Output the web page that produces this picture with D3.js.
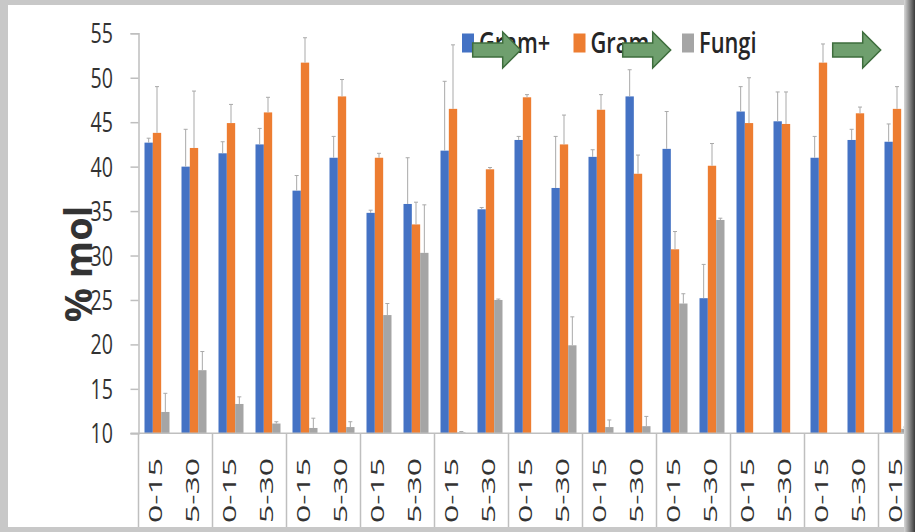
<!DOCTYPE html>
<html>
<head>
<meta charset="utf-8">
<script src="https://cdn.jsdelivr.net/npm/d3@7"></script>
<style>
  html, body { margin: 0; padding: 0; background: #ffffff; }
  svg { display: block; }
</style>
</head>
<body>
<svg id="chart" width="915" height="532"></svg>
<script>
// Soil depth classes, eleven sites with two depths each (only 21 columns fit the slide)
const categories = [
  "0-15", "15-30", "0-15", "15-30", "0-15", "15-30", "0-15", "15-30",
  "0-15", "15-30", "0-15", "15-30", "0-15", "15-30", "0-15", "15-30",
  "0-15", "15-30", "0-15", "15-30", "0-15"
];
const seriesNames = ["Gram+", "Gram-", "Fungi"];

// % mol of PLFA marker groups
const gramPos = [42.7, 40.0, 41.5, 42.5, 37.3, 41.0, 34.8, 35.8, 41.8, 35.2, 43.0,
                 37.6, 41.1, 47.9, 42.0, 25.2, 46.2, 45.1, 41.0, 43.0, 42.8];
const gramNeg = [43.8, 42.1, 44.9, 46.1, 51.7, 47.9, 41.0, 33.5, 46.5, 39.7, 47.8,
                 42.5, 46.4, 39.2, 30.7, 40.1, 44.9, 44.8, 51.7, 46.0, 46.5];
const fungi   = [12.4, 17.1, 13.3, 11.1, 10.6, 10.7, 23.3, 30.3, 10.1, 25.0, 10.0,
                 19.9, 10.7, 10.8, 24.6, 34.0, 10.0, 10.0, 10.0, 10.0, 10.5];

// standard errors (upper whiskers)
const gramPosErr = [0.5, 4.2, 1.3, 1.8, 1.7, 2.4, 0.3, 5.2, 7.8, 0.2, 0.4,
                    5.8, 0.8, 3.0, 4.2, 3.8, 2.8, 3.3, 2.4, 1.2, 2.0];
const gramNegErr = [5.2, 6.4, 2.1, 1.7, 2.8, 1.9, 0.5, 2.5, 7.2, 0.2, 0.3,
                    3.3, 1.7, 2.1, 2.0, 2.5, 5.1, 3.6, 2.1, 0.7, 2.5];
const fungiErr   = [2.1, 2.1, 0.8, 0.2, 1.1, 0.6, 1.3, 5.4, 0.1, 0.1, 0.0,
                    3.2, 0.8, 1.1, 1.1, 0.2, 0.0, 0.0, 0.0, 0.0, 0.2];

const yTicks = [10, 15, 20, 25, 30, 35, 40, 45, 50, 55];
const yTitle = "% mol";
const colors = ["#4472c4", "#ed7d31", "#a5a5a5"];

const svg = d3.select("#chart");
const W = 915, H = 532;

const plotTop = 33.3, plotBottom = 433.3, axisX = 138.5;

const y = d3.scaleLinear().domain([10, 55]).range([plotBottom, plotTop]);
const x = d3.scaleBand()
  .domain(d3.range(categories.length))
  .range([axisX, axisX + 37 * categories.length])
  .padding(0);
const xs = d3.scaleBand().domain(seriesNames).range([6, 31]).padding(0);

const values = [gramPos, gramNeg, fungi];
const errors = [gramPosErr, gramNegErr, fungiErr];

svg.append("rect").attr("width", W).attr("height", H).attr("fill", "#ffffff");

// bars
const rows = [];
categories.forEach((c, i) => {
  seriesNames.forEach((s, k) => {
    rows.push({ i, k, s, v: values[k][i], e: errors[k][i] });
  });
});

const gBars = svg.append("g");
gBars.selectAll("rect")
  .data(rows.filter(d => d.v > 10))
  .join("rect")
  .attr("x", d => x(d.i) + xs(d.s))
  .attr("width", xs.bandwidth())
  .attr("y", d => y(d.v))
  .attr("height", d => y(10) - y(d.v))
  .attr("fill", d => colors[d.k]);

// error whiskers
const gErr = svg.append("g").attr("stroke", "#a9a9a9").attr("stroke-width", 1);
rows.filter(d => d.e > 0).forEach(d => {
  const cx = x(d.i) + xs(d.s) + xs.bandwidth() / 2;
  gErr.append("line")
    .attr("x1", cx).attr("x2", cx)
    .attr("y1", y(d.v)).attr("y2", y(d.v + d.e));
  gErr.append("line")
    .attr("x1", cx - 2).attr("x2", cx + 2)
    .attr("y1", y(d.v + d.e)).attr("y2", y(d.v + d.e));
});

// y axis
const yAxis = svg.append("g").attr("transform", `translate(${axisX},0)`)
  .call(d3.axisLeft(y).tickValues(yTicks).tickSize(8).tickFormat(""));
yAxis.select(".domain").attr("stroke", "#bfbfbf").attr("stroke-width", 1.5);
yAxis.selectAll(".tick line").attr("stroke", "#bfbfbf").attr("stroke-width", 1.5);

yTicks.forEach(t => {
  svg.append("text")
    .attr("transform", `translate(113,${y(t)}) scale(0.7,1)`)
    .attr("text-anchor", "end")
    .attr("dy", "0.36em")
    .attr("font-family", "'Open Sans', sans-serif")
    .attr("font-size", 28)
    .attr("fill", "#333")
    .text(t);
});

// x axis line, group separators
svg.append("line")
  .attr("x1", axisX - 8).attr("x2", W)
  .attr("y1", plotBottom).attr("y2", plotBottom)
  .attr("stroke", "#bfbfbf").attr("stroke-width", 1.5);
d3.range(0, categories.length + 1, 2).forEach(i => {
  const sx = axisX + 37 * i;
  svg.append("line")
    .attr("x1", sx).attr("x2", sx)
    .attr("y1", plotBottom).attr("y2", H)
    .attr("stroke", "#bfbfbf").attr("stroke-width", 1.5);
});

categories.forEach((c, i) => {
  const cx = x(i) + x.bandwidth() / 2 - 1.5;
  svg.append("text")
    .attr("transform", `translate(${cx},458) rotate(-90) scale(1.68,1)`)
    .attr("text-anchor", "end")
    .attr("dy", "0.36em")
    .attr("font-family", "'Open Sans', sans-serif")
    .attr("font-size", 19)
    .attr("fill", "#333")
    .text(c);
});

// y title
svg.append("text")
  .attr("transform", `translate(78,264) rotate(-90) scale(1.0,1)`)
  .attr("text-anchor", "middle")
  .attr("dy", "0.36em")
  .attr("font-family", "'Open Sans', sans-serif")
  .attr("font-weight", 700)
  .attr("font-size", 38)
  .attr("fill", "#333")
  .text(yTitle);

// legend
const legendX = [462, 573.5, 682];
seriesNames.forEach((s, k) => {
  svg.append("rect")
    .attr("x", legendX[k]).attr("y", 33.5)
    .attr("width", 12).attr("height", 19)
    .attr("fill", colors[k]);
  svg.append("text")
    .attr("transform", `translate(${legendX[k] + 17},53) scale(0.78,1)`)
    .attr("font-family", "'Open Sans', sans-serif")
    .attr("font-weight", 600)
    .attr("font-size", 28)
    .attr("fill", "#262626")
    .text(s);
});

// green arrow callouts
const arrowX = [472.7, 622.7, 832.7];
const arrow = d3.line()([[0, 11], [30, 11], [30, 0], [48, 18], [30, 36], [30, 25], [0, 25]]) + "Z";
arrowX.forEach(ax => {
  svg.append("path")
    .attr("d", arrow)
    .attr("transform", `translate(${ax},32)`)
    .attr("fill", "#6f9f6e")
    .attr("stroke", "#3e6d3d")
    .attr("stroke-width", 1.5)
    .attr("stroke-linejoin", "miter");
});

// slide frame
const defs = svg.append("defs");
const gr = defs.append("linearGradient").attr("id", "edge").attr("x1", 0).attr("x2", 1);
gr.append("stop").attr("offset", 0).attr("stop-color", "#d8d8d8");
gr.append("stop").attr("offset", 0.5).attr("stop-color", "#8a8a8a");
gr.append("stop").attr("offset", 1).attr("stop-color", "#3a3a3a");
svg.append("rect").attr("x", 0).attr("y", 0).attr("width", W).attr("height", 5).attr("fill", "#c8c8c8");
svg.append("rect").attr("x", 0).attr("y", 0).attr("width", 8).attr("height", H).attr("fill", "#c8c8c8");
svg.append("rect").attr("x", 0).attr("y", 527).attr("width", W).attr("height", 5).attr("fill", "#c8c8c8");
svg.append("rect").attr("x", 904).attr("y", 0).attr("width", 11).attr("height", H).attr("fill", "url(#edge)");
</script>
</body>
</html>
